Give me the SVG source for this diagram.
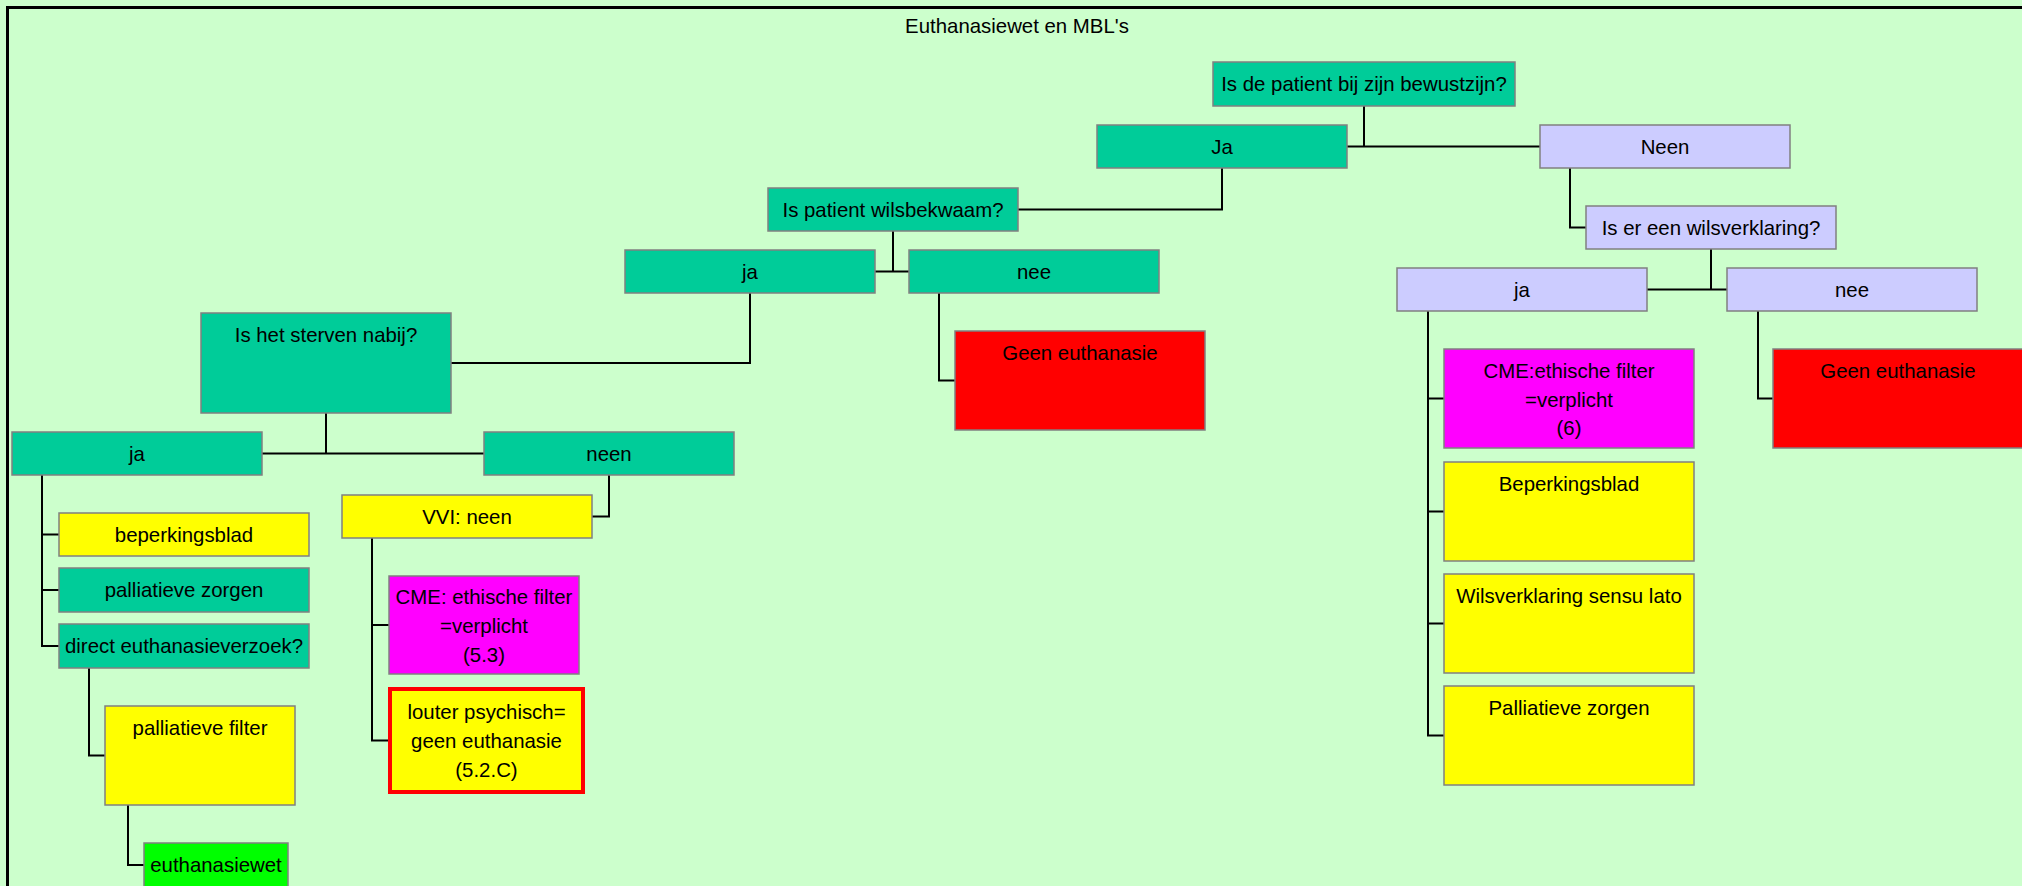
<svg xmlns="http://www.w3.org/2000/svg" width="2022" height="886" viewBox="0 0 2022 886">
<style>
text{font-family:"Liberation Sans",Arial,sans-serif;font-size:20.4px;fill:#000;text-anchor:middle}
.n{stroke:#808080;stroke-width:1.5}
.teal{fill:#00CC99}.lav{fill:#CCCCFF}.yel{fill:#FFFF00}.mag{fill:#FF00FF}.red{fill:#FF0000}.grn{fill:#00FF00}
#connectors path{fill:none;stroke:#000;stroke-width:2}
</style>
<rect x="0" y="0" width="2022" height="886" fill="#CCFFCC"/>
<rect x="7.5" y="7.5" width="2040" height="900" fill="none" stroke="#000" stroke-width="3"/>
<text x="1017" y="33">Euthanasiewet en MBL's</text>
<g id="connectors">
<path d="M1364,106V146.5M1347,146.5H1540"/>
<path d="M1222,168V209.5H1018"/>
<path d="M893,231V271.5M875,271.5H909"/>
<path d="M750,293V363H451"/>
<path d="M939,293V380.5H955"/>
<path d="M326,413V453.5M262,453.5H484"/>
<path d="M42,475V646H59M42,534.5H59M42,590H59"/>
<path d="M89,668V755.5H105"/>
<path d="M128,805V865H144"/>
<path d="M609,475V516.5H592"/>
<path d="M372,538V740.5H390M372,625H389"/>
<path d="M1570,168V227.5H1586"/>
<path d="M1711,249V289.5M1647,289.5H1727"/>
<path d="M1428,311V735.5H1444M1428,398.5H1444M1428,511.5H1444M1428,623.5H1444"/>
<path d="M1758,311V398.5H1773"/>
</g>
<g id="root"><rect class="n teal" x="1213" y="62" width="302" height="44"/><text x="1364" y="91">Is de patient bij zijn bewustzijn?</text></g>
<g id="ja1"><rect class="n teal" x="1097" y="125" width="250" height="43"/><text x="1222" y="154">Ja</text></g>
<g id="neen1"><rect class="n lav" x="1540" y="125" width="250" height="43"/><text x="1665" y="154">Neen</text></g>
<g id="wilsbekwaam"><rect class="n teal" x="768" y="188" width="250" height="43"/><text x="893" y="217">Is patient wilsbekwaam?</text></g>
<g id="ja2"><rect class="n teal" x="625" y="250" width="250" height="43"/><text x="750" y="279">ja</text></g>
<g id="nee2"><rect class="n teal" x="909" y="250" width="250" height="43"/><text x="1034" y="279">nee</text></g>
<g id="sterven"><rect class="n teal" x="201" y="313" width="250" height="100"/><text x="326" y="342">Is het sterven nabij?</text></g>
<g id="geen1"><rect class="n red" x="955" y="331" width="250" height="99"/><text x="1080" y="360">Geen euthanasie</text></g>
<g id="ja3"><rect class="n teal" x="12" y="432" width="250" height="43"/><text x="137" y="461">ja</text></g>
<g id="neen3"><rect class="n teal" x="484" y="432" width="250" height="43"/><text x="609" y="461">neen</text></g>
<g id="beperkingsblad1"><rect class="n yel" x="59" y="513" width="250" height="43"/><text x="184" y="542">beperkingsblad</text></g>
<g id="palliatief1"><rect class="n teal" x="59" y="568" width="250" height="44"/><text x="184" y="597">palliatieve zorgen</text></g>
<g id="direct"><rect class="n teal" x="59" y="624" width="250" height="44"/><text x="184" y="653">direct euthanasieverzoek?</text></g>
<g id="pallfilter"><rect class="n yel" x="105" y="706" width="190" height="99"/><text x="200" y="735">palliatieve filter</text></g>
<g id="euthanasiewet"><rect class="n grn" x="144" y="843" width="144" height="44"/><text x="216" y="872">euthanasiewet</text></g>
<g id="vvi"><rect class="n yel" x="342" y="495" width="250" height="43"/><text x="467" y="524">VVI: neen</text></g>
<g id="cme53"><rect class="n mag" x="389" y="576" width="190" height="98"/><text x="484" y="604">CME: ethische filter</text><text x="484" y="633">=verplicht</text><text x="484" y="662">(5.3)</text></g>
<g id="louter"><rect x="390" y="689" width="193" height="103" fill="#FFFF00" stroke="#FF0000" stroke-width="4"/><text x="486.5" y="719">louter psychisch=</text><text x="486.5" y="748">geen euthanasie</text><text x="486.5" y="777">(5.2.C)</text></g>
<g id="wilsverklaring"><rect class="n lav" x="1586" y="206" width="250" height="43"/><text x="1711" y="235">Is er een wilsverklaring?</text></g>
<g id="jaR"><rect class="n lav" x="1397" y="268" width="250" height="43"/><text x="1522" y="297">ja</text></g>
<g id="neeR"><rect class="n lav" x="1727" y="268" width="250" height="43"/><text x="1852" y="297">nee</text></g>
<g id="cme6"><rect class="n mag" x="1444" y="349" width="250" height="99"/><text x="1569" y="378">CME:ethische filter</text><text x="1569" y="407">=verplicht</text><text x="1569" y="435">(6)</text></g>
<g id="beperkingsblad2"><rect class="n yel" x="1444" y="462" width="250" height="99"/><text x="1569" y="491">Beperkingsblad</text></g>
<g id="wilsverklaringsl"><rect class="n yel" x="1444" y="574" width="250" height="99"/><text x="1569" y="603">Wilsverklaring sensu lato</text></g>
<g id="palliatief2"><rect class="n yel" x="1444" y="686" width="250" height="99"/><text x="1569" y="715">Palliatieve zorgen</text></g>
<g id="geen2"><rect class="n red" x="1773" y="349" width="250" height="99"/><text x="1898" y="378">Geen euthanasie</text></g>
</svg>
